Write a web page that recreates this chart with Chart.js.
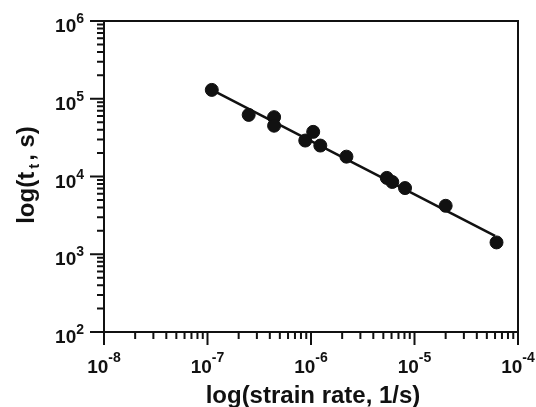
<!DOCTYPE html>
<html>
<head>
<meta charset="utf-8">
<script src="https://cdn.jsdelivr.net/npm/chart.js@4"></script>
<style>
  html, body { margin: 0; padding: 0; background: #fff; }
  #wrap { width: 536px; height: 407px; }
</style>
</head>
<body>
<div id="wrap"><canvas id="chart" width="536" height="407"></canvas></div>
<script>
// strain rate (1/s) and time to failure (s)
const strainRate = [1.1e-7, 2.5e-7, 4.4e-7, 4.4e-7, 8.8e-7, 1.05e-6, 1.23e-6, 2.2e-6, 5.4e-6, 6.1e-6, 8.1e-6, 2.0e-5, 6.2e-5];
const timeToFailure = [1.30e5, 6.2e4, 5.8e4, 4.5e4, 2.9e4, 3.75e4, 2.5e4, 1.8e4, 9.6e3, 8.5e3, 7.1e3, 4.2e3, 1.42e3];

// power law fit line end points
const fitX = [1.1e-7, 6.0e-5];
const fitY = [1.30e5, 1.72e3];

// axis decades (exponents)
const xExponents = [-8, -7, -6, -5, -4];
const yExponents = [2, 3, 4, 5, 6];

const xTitle = 'log(strain rate, 1/s)';
const yTitleParts = ['log(t', 't', ', s)'];

const FONT = '"Liberation Sans", Arial, sans-serif';

const points = strainRate.map((x, i) => ({ x: x, y: timeToFailure[i] }));
const fitLine = fitX.map((x, i) => ({ x: x, y: fitY[i] }));

// draws box, outward ticks, power-of-ten labels and axis titles
const axesPlugin = {
    id: 'axesPlugin',
    afterDraw(chart) {
        const ctx = chart.ctx;
        const a = chart.chartArea;
        const xs = chart.scales.x, ys = chart.scales.y;
        ctx.save();
        ctx.strokeStyle = '#111';
        ctx.fillStyle = '#111';
        ctx.lineWidth = 2;
        ctx.strokeRect(a.left, a.top, a.right - a.left, a.bottom - a.top);

        // ticks
        ctx.beginPath();
        for (let e = xExponents[0]; e < xExponents[xExponents.length - 1]; e++) {
            for (let m = 1; m <= 9; m++) {
                const px = xs.getPixelForValue(m * Math.pow(10, e));
                ctx.moveTo(px, a.bottom);
                ctx.lineTo(px, a.bottom + (m === 1 ? 13 : 7));
            }
        }
        let px = xs.getPixelForValue(Math.pow(10, xExponents[xExponents.length - 1]));
        ctx.moveTo(px, a.bottom); ctx.lineTo(px, a.bottom + 13);
        for (let e = yExponents[0]; e < yExponents[yExponents.length - 1]; e++) {
            for (let m = 1; m <= 9; m++) {
                const py = ys.getPixelForValue(m * Math.pow(10, e));
                ctx.moveTo(a.left, py);
                ctx.lineTo(a.left - (m === 1 ? 14 : 7), py);
            }
        }
        let py = ys.getPixelForValue(Math.pow(10, yExponents[yExponents.length - 1]));
        ctx.moveTo(a.left, py); ctx.lineTo(a.left - 14, py);
        ctx.stroke();

        const bigFont = 'bold 19px ' + FONT;
        const supFont = 'bold 14px ' + FONT;
        ctx.textBaseline = 'alphabetic';
        ctx.textAlign = 'left';

        // x labels
        xExponents.forEach(e => {
            const x = xs.getPixelForValue(Math.pow(10, e));
            ctx.font = bigFont;
            const w1 = ctx.measureText('10').width;
            ctx.font = supFont;
            const w2 = ctx.measureText(String(e)).width;
            const x0 = x - (w1 + w2) / 2;
            ctx.font = bigFont;
            ctx.fillText('10', x0, 373);
            ctx.font = supFont;
            ctx.fillText(String(e), x0 + w1, 362);
        });

        // y labels
        yExponents.forEach(e => {
            const y = ys.getPixelForValue(Math.pow(10, e));
            ctx.font = supFont;
            const w2 = ctx.measureText(String(e)).width;
            ctx.font = bigFont;
            const w1 = ctx.measureText('10').width;
            const right = 84;
            ctx.fillText('10', right - w2 - w1, y + 11);
            ctx.font = supFont;
            ctx.fillText(String(e), right - w2, y + 2);
        });

        // x title
        ctx.font = 'bold 24px ' + FONT;
        ctx.textAlign = 'center';
        ctx.fillText(xTitle, (a.left + a.right) / 2 + 2, 403);

        // y title with subscript
        ctx.translate(34, 175);
        ctx.rotate(-Math.PI / 2);
        const f1 = 'bold 24px ' + FONT, f2 = 'bold 15px ' + FONT;
        ctx.font = f1;
        const wa = ctx.measureText(yTitleParts[0]).width;
        const wc = ctx.measureText(yTitleParts[2]).width;
        ctx.font = f2;
        const wb = ctx.measureText(yTitleParts[1]).width + 6;
        let tx = -(wa + wb + wc) / 2;
        ctx.textAlign = 'left';
        ctx.font = f1;
        ctx.fillText(yTitleParts[0], tx, 0);
        ctx.font = f2;
        ctx.fillText(yTitleParts[1], tx + wa + 3, 5);
        ctx.font = f1;
        ctx.fillText(yTitleParts[2], tx + wa + wb, 0);
        ctx.restore();
    }
};

const ctx = document.getElementById('chart').getContext('2d');
const chart = new Chart(ctx, {
    type: 'scatter',
    data: {
        datasets: [{
            label: 'fit',
            data: fitLine,
            showLine: true,
            borderColor: '#111',
            borderWidth: 2.5,
            pointRadius: 0,
            order: 2
        }, {
            label: 'data',
            data: points,
            backgroundColor: '#111',
            borderColor: '#111',
            pointRadius: 6.5,
            pointHoverRadius: 6.5,
            order: 1
        }]
    },
    options: {
        responsive: false,
        animation: false,
        layout: { padding: { left: 104, right: 18, top: 21, bottom: 75 } },
        plugins: { legend: { display: false }, tooltip: { enabled: false } },
        scales: {
            x: { type: 'logarithmic', min: 1e-8, max: 1e-4, display: false },
            y: { type: 'logarithmic', min: 1e2, max: 1e6, display: false }
        }
    },
    plugins: [axesPlugin]
});
</script>
</body>
</html>
